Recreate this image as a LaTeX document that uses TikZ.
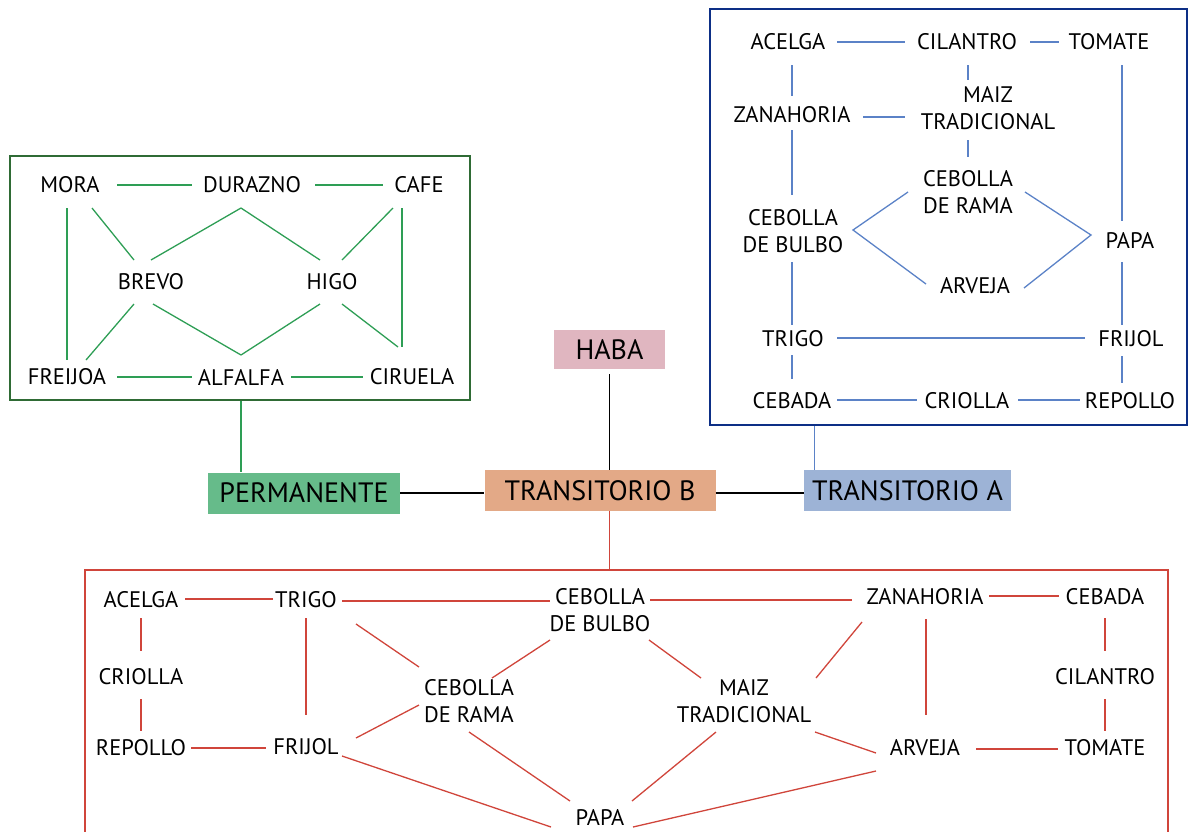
\documentclass[tikz,border=0pt]{standalone}
\usepackage{fontspec}
\setmainfont{PT Sans}
\usetikzlibrary{calc}
\definecolor{gline}{HTML}{2E9E55}
\definecolor{gbox}{HTML}{2F6B35}
\definecolor{bline}{HTML}{5B82C7}
\definecolor{bbox}{HTML}{0D2F86}
\definecolor{rline}{HTML}{D0453B}
\definecolor{permfill}{HTML}{66BB8A}
\definecolor{trbfill}{HTML}{E3A987}
\definecolor{trafill}{HTML}{9DB3D6}
\definecolor{habafill}{HTML}{E0B6C0}
\tikzset{
  lbl/.style={font=\fontsize{22.5}{27}\selectfont, align=center, inner sep=0pt},
  main/.style={font=\fontsize{28}{30}\selectfont, inner sep=0pt, anchor=center},
  gl/.style={draw=gline, line width=1.3pt},
  bl/.style={draw=bline, line width=1.3pt},
  rl/.style={draw=rline, line width=1.3pt},
  blk/.style={draw=black, line width=2.6pt},
}
\newcommand\lk[7]{\draw[#1] ($(#2)+(#3,#4)$) -- ($(#5)+(#6,#7)$);}
\begin{document}
\begin{tikzpicture}[x=1pt,y=-1pt]
\useasboundingbox (0,0) rectangle (1189,831);
\clip (0,0) rectangle (1189,831);
% ---------- green group
\node[draw=gbox, line width=2.2pt, minimum width=460pt, minimum height=244pt, inner sep=0pt] (greenbox) at (240,278) {};
\node[lbl] (mora) at (70,185) {MORA};
\node[lbl] (dur) at (252,185) {DURAZNO};
\node[lbl] (cafe) at (419,185) {CAFE};
\node[lbl] (brevo) at (151,282) {BREVO};
\node[lbl] (higo) at (332,282) {HIGO};
\node[lbl] (frei) at (67,377) {FREIJOA};
\node[lbl] (alf) at (241,377) {ALFALFA};
\node[lbl] (cir) at (412,377) {CIRUELA};
\lk{gl}{mora}{47}{0}{dur}{-60}{0}
\lk{gl}{dur}{63}{0}{cafe}{-36}{0}
\lk{gl}{mora}{-3}{23}{frei}{0}{-17}
\lk{gl}{mora}{22}{23}{brevo}{-17}{-22}
\lk{gl}{dur}{-11}{23}{brevo}{0}{-22}
\lk{gl}{dur}{-11}{23}{higo}{-12}{-22}
\lk{gl}{cafe}{-26}{23}{higo}{10}{-22}
\lk{gl}{cafe}{-17}{23}{cir}{-10}{-30}
\lk{gl}{brevo}{-17}{22}{frei}{19}{-17}
\lk{gl}{brevo}{2}{22}{alf}{0}{-22}
\lk{gl}{higo}{-12}{22}{alf}{0}{-22}
\lk{gl}{higo}{10}{22}{cir}{-14}{-30}
\lk{gl}{frei}{50}{0}{alf}{-49}{0}
\lk{gl}{alf}{50}{0}{cir}{-49}{0}
% ---------- blue group
\node[draw=bbox, line width=2.6pt, minimum width=477pt, minimum height=416pt, inner sep=0pt] (bluebox) at (948.5,217) {};
\node[lbl] (acel) at (788,42) {ACELGA};
\node[lbl] (cil) at (967,42) {CILANTRO};
\node[lbl] (tom) at (1109,42) {TOMATE};
\node[lbl] (zan) at (792,115) {ZANAHORIA};
\node[lbl] (maiz) at (988,108) {MAIZ\\TRADICIONAL};
\node[lbl] (crama) at (968,192) {CEBOLLA\\DE RAMA};
\node[lbl] (cbulbo) at (793,231) {CEBOLLA\\DE BULBO};
\node[lbl] (papa) at (1130,240) {PAPA};
\node[lbl] (arv) at (975,286) {ARVEJA};
\node[lbl] (trigo) at (793,339) {TRIGO};
\node[lbl] (frij) at (1131,339) {FRIJOL};
\node[lbl] (ceb) at (792,401) {CEBADA};
\node[lbl] (crio) at (967,401) {CRIOLLA};
\node[lbl] (rep) at (1130,401) {REPOLLO};
\lk{bl}{acel}{49}{0}{cil}{-62}{0}
\lk{bl}{cil}{63}{0}{tom}{-50}{0}
\lk{bl}{acel}{4}{23}{zan}{0}{-19}
\lk{bl}{cil}{1}{23}{maiz}{-20}{-28}
\lk{bl}{zan}{71}{2}{maiz}{-83}{9}
\lk{bl}{maiz}{-20}{32}{crama}{0}{-35}
\lk{bl}{zan}{0}{15}{cbulbo}{-1}{-36}
\lk{bl}{tom}{13}{23}{papa}{-8}{-19}
\draw[bl] ($(crama)+(-60,0)$) -- ($(cbulbo)+(60,-1)$) -- ($(arv)+(-49,-2)$);
\draw[bl] ($(crama)+(57,0)$) -- ($(papa)+(-39,-5)$) -- ($(arv)+(49,2)$);
\lk{bl}{cbulbo}{-1}{31}{trigo}{-1}{-14}
\lk{bl}{papa}{-8}{22}{frij}{-9}{-14}
\lk{bl}{trigo}{44}{-1}{frij}{-46}{-1}
\lk{bl}{trigo}{-1}{16}{ceb}{0}{-22}
\lk{bl}{frij}{-9}{17}{rep}{-8}{-18}
\lk{bl}{ceb}{45}{-1}{crio}{-50}{-1}
\lk{bl}{crio}{51}{-1}{rep}{-50}{-1}
% ---------- central boxes
\node[main, fill=permfill, minimum width=192pt, minimum height=41pt] (perm) at (304,493) {PERMANENTE};
\node[main, fill=trbfill, minimum width=231pt, minimum height=41pt] (trb) at (600,490.5) {TRANSITORIO B};
\node[main, fill=trafill, minimum width=207pt, minimum height=41pt] (tra) at (907.5,490.5) {TRANSITORIO A};
\node[main, fill=habafill, minimum width=111pt, minimum height=39pt] (haba) at (609.5,349.5) {HABA};
\draw[blk] (perm.east) -- (perm.east -| trb.west);
\draw[blk] ([yshift=-2.5pt]trb.east) -- ([yshift=-2.5pt]trb.east -| tra.west);
\draw[black, line width=1.4pt] ([yshift=-5pt]haba.south) -- (haba.south |- trb.north);
\draw[gline, line width=1.3pt] (alf |- greenbox.south) -- (alf |- perm.north);
\draw[bline, line width=1.3pt] ([xshift=11pt]tra.north west |- bluebox.south) -- ([xshift=11pt]tra.north west);
% ---------- red group
\coordinate (rtl) at (85,570);
\coordinate (rtr) at (1168,570);
\draw[rline, line width=2.6pt] (rtl |- 0,840) -- (rtl) -- (rtr) -- (rtr |- 0,840);
\draw[rline, line width=1.5pt] (haba.south |- trb.south) -- (haba.south |- rtl);
\node[lbl] (racel) at (141,600) {ACELGA};
\node[lbl] (rtrigo) at (306,600) {TRIGO};
\node[lbl] (rbulbo) at (600,610) {CEBOLLA\\DE BULBO};
\node[lbl] (rzan) at (925,597) {ZANAHORIA};
\node[lbl] (rceb) at (1105,597) {CEBADA};
\node[lbl] (rcrio) at (141,677) {CRIOLLA};
\node[lbl] (rcil) at (1105,677) {CILANTRO};
\node[lbl] (rrama) at (469,701) {CEBOLLA\\DE RAMA};
\node[lbl] (rmaiz) at (744,701) {MAIZ\\TRADICIONAL};
\node[lbl] (rrep) at (141,748) {REPOLLO};
\node[lbl] (rfrij) at (306,747) {FRIJOL};
\node[lbl] (rarv) at (925,748) {ARVEJA};
\node[lbl] (rtom) at (1105,748) {TOMATE};
\node[lbl] (rpapa) at (600,817) {PAPA};
\lk{rl}{racel}{44}{-1}{rtrigo}{-33}{-1}
\lk{rl}{rtrigo}{36}{1}{rbulbo}{-50}{-9}
\lk{rl}{rbulbo}{50}{-10}{rzan}{-73}{3}
\lk{rl}{rzan}{64}{-1}{rceb}{-46}{-1}
\lk{rl}{racel}{0}{18}{rcrio}{0}{-26}
\lk{rl}{rcrio}{0}{22}{rrep}{0}{-17}
\lk{rl}{rtrigo}{0}{18}{rfrij}{0}{-32}
\lk{rl}{rrep}{50}{0}{rfrij}{-40}{1}
\lk{rl}{rtrigo}{50}{24}{rrama}{-50}{-34}
\lk{rl}{rbulbo}{-50}{30}{rrama}{23}{-23}
\lk{rl}{rfrij}{50}{-9}{rrama}{-50}{4}
\lk{rl}{rfrij}{36}{9}{rpapa}{-49}{10}
\lk{rl}{rrama}{0}{31}{rpapa}{-30}{-16}
\lk{rl}{rbulbo}{49}{30}{rmaiz}{-43}{-23}
\lk{rl}{rzan}{-63}{25}{rmaiz}{72}{-23}
\lk{rl}{rzan}{1}{22}{rarv}{1}{-33}
\lk{rl}{rceb}{0}{21}{rcil}{0}{-26}
\lk{rl}{rcil}{0}{22}{rtom}{0}{-17}
\lk{rl}{rmaiz}{71}{31}{rarv}{-49}{5}
\lk{rl}{rmaiz}{-28}{31}{rpapa}{32}{-16}
\lk{rl}{rarv}{51}{1}{rtom}{-47}{1}
\lk{rl}{rarv}{-49}{23}{rpapa}{33}{10}
\end{tikzpicture}
\end{document}
